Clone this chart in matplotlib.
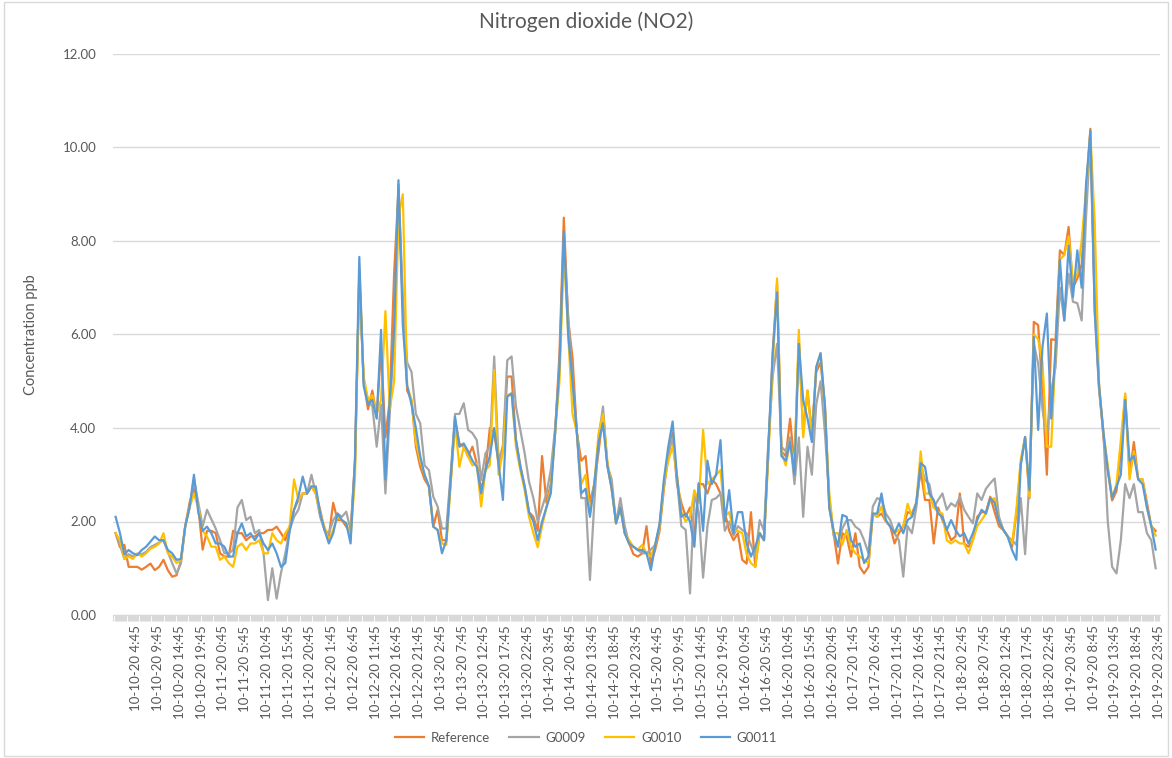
import matplotlib
matplotlib.use("Agg")
import matplotlib.pyplot as plt
from matplotlib.patches import Rectangle
import numpy as np
import pandas as pd

# hourly NO2 readings (ppb), 10-10-20 0:00 .. 10-19-20 23:00, one row per day
reference = [
    1.75, 1.45, 1.5, 1.03, 1.03, 1.03, 0.97, 1.03, 1.1, 0.96, 1.03, 1.18, 0.96, 0.82, 0.85, 1.15, 1.9, 2.4, 2.7, 2.3, 1.4, 1.8, 1.8, 1.75,
    1.32, 1.25, 1.25, 1.8, 1.75, 1.75, 1.6, 1.68, 1.68, 1.75, 1.75, 1.82, 1.82, 1.89, 1.75, 1.6, 1.89, 2.25, 2.46, 2.6, 2.6, 2.75, 2.6, 2.25,
    1.82, 1.68, 2.4, 2.03, 2.03, 1.89, 1.75, 3.3, 7.2, 5.0, 4.4, 4.8, 4.24, 5.7, 3.8, 4.6, 7.3, 9.1, 6.6, 4.8, 4.6, 3.6, 3.17, 2.9,
    2.75, 1.89, 2.25, 1.6, 1.6, 2.9, 4.17, 3.67, 3.6, 3.39, 3.6, 3.24, 2.67, 3.1, 4.0, 3.9, 3.24, 3.6, 5.1, 5.1, 3.74, 3.2, 2.75, 2.2,
    2.1, 1.8, 3.4, 2.4, 2.8, 3.9, 5.6, 8.5, 6.3, 5.5, 3.9, 3.3, 3.4, 2.4, 2.8, 3.5, 4.3, 3.2, 2.7, 2.0, 2.3, 1.75, 1.53, 1.3,
    1.25, 1.32, 1.9, 1.1, 1.4, 1.8, 2.7, 3.4, 3.9, 2.8, 2.4, 2.1, 2.3, 1.7, 2.8, 2.8, 2.6, 2.9, 2.8, 2.6, 2.2, 1.8, 1.6, 1.75,
    1.18, 1.1, 2.2, 1.03, 1.75, 1.6, 3.5, 5.6, 7.1, 3.5, 3.4, 4.2, 3.2, 5.9, 3.9, 4.8, 3.9, 5.2, 5.4, 4.5, 2.3, 1.75, 1.1, 1.75,
    1.68, 1.25, 1.75, 1.03, 0.89, 1.03, 2.17, 2.1, 2.17, 2.0, 1.9, 1.53, 1.75, 1.9, 2.2, 2.17, 2.4, 3.1, 2.46, 2.46, 1.53, 2.3, 2.03, 1.82,
    1.6, 1.68, 2.6, 1.53, 1.46, 1.6, 2.1, 2.2, 2.2, 2.53, 2.2, 1.9, 1.82, 1.68, 1.46, 2.17, 3.24, 3.8, 2.5, 6.27, 6.2, 4.8, 3.0, 5.9,
    5.88, 7.8, 7.7, 8.3, 7.0, 7.2, 7.5, 9.0, 10.4, 6.7, 4.9, 3.8, 3.1, 2.45, 2.65, 3.5, 4.7, 3.0, 3.7, 2.9, 2.9, 2.4, 1.9, 1.8,
]

g0009 = [
    1.75, 1.5, 1.2, 1.3, 1.25, 1.3, 1.3, 1.35, 1.45, 1.5, 1.55, 1.6, 1.35, 1.11, 0.89, 1.1, 1.9, 2.3, 2.9, 2.4, 1.9, 2.25, 2.05, 1.85,
    1.6, 1.32, 1.32, 1.39, 2.3, 2.46, 2.03, 2.1, 1.75, 1.82, 1.32, 0.32, 1.0, 0.35, 0.9, 1.32, 1.82, 2.1, 2.25, 2.6, 2.6, 3.0, 2.6, 2.1,
    1.82, 1.75, 2.03, 2.17, 2.1, 2.21, 1.82, 3.2, 7.3, 5.0, 4.6, 4.46, 3.6, 4.5, 2.6, 4.3, 6.0, 9.2, 6.8, 5.4, 5.2, 4.3, 4.1, 3.2,
    3.1, 2.53, 2.32, 1.85, 1.85, 3.03, 4.3, 4.3, 4.53, 3.96, 3.89, 3.74, 2.89, 3.46, 3.6, 5.53, 3.3, 3.6, 5.45, 5.53, 4.46, 3.96, 3.46, 2.85,
    2.5, 2.0, 2.3, 2.6, 3.1, 4.0, 5.3, 8.0, 6.4, 5.0, 3.9, 2.5, 2.5, 0.75, 2.4, 3.8, 4.46, 3.2, 2.9, 1.96, 2.5, 1.9, 1.53, 1.46,
    1.39, 1.32, 1.32, 1.4, 1.5, 1.9, 2.82, 3.46, 3.8, 2.9, 1.9, 1.82, 0.46, 2.6, 2.2, 0.8, 1.9, 2.46, 2.5, 2.6, 1.8, 2.0, 1.7, 1.9,
    1.82, 1.75, 1.5, 1.25, 2.03, 1.8, 3.7, 5.1, 5.8, 3.6, 3.5, 3.8, 2.8, 3.8, 2.1, 3.6, 3.0, 4.5, 5.0, 3.9, 2.5, 1.7, 1.5, 1.85,
    2.03, 2.03, 1.89, 1.82, 1.6, 1.32, 2.32, 2.5, 2.46, 2.17, 2.03, 1.75, 1.6, 0.82, 1.9, 1.75, 2.3, 3.2, 2.89, 2.8, 2.3, 2.46, 2.6, 2.25,
    2.39, 2.32, 2.53, 2.25, 2.1, 1.96, 2.6, 2.46, 2.7, 2.82, 2.92, 2.1, 1.82, 1.68, 1.6, 1.5, 2.5, 1.3, 2.9, 5.8, 5.38, 4.4, 3.8, 4.8,
    5.3, 7.0, 6.3, 7.3, 6.7, 6.67, 6.3, 8.5, 10.2, 6.5, 4.8, 3.9, 2.0, 1.03, 0.89, 1.6, 2.8, 2.5, 2.8, 2.2, 2.2, 1.75, 1.6, 1.0,
]

g0010 = [
    1.75, 1.6, 1.2, 1.25, 1.2, 1.32, 1.25, 1.32, 1.42, 1.46, 1.53, 1.75, 1.32, 1.25, 1.11, 1.18, 1.9, 2.3, 2.6, 2.3, 1.8, 1.68, 1.46, 1.46,
    1.18, 1.25, 1.11, 1.03, 1.46, 1.53, 1.39, 1.53, 1.53, 1.6, 1.32, 1.32, 1.75, 1.6, 1.53, 1.75, 1.89, 2.9, 2.46, 2.6, 2.6, 2.75, 2.6, 2.17,
    1.89, 1.6, 1.82, 2.1, 2.03, 1.96, 1.68, 2.9, 7.4, 5.1, 4.6, 4.7, 4.3, 4.6, 6.5, 4.4, 5.0, 8.5, 9.0, 4.9, 4.6, 3.7, 3.3, 3.0,
    2.75, 1.89, 1.82, 1.53, 1.5, 2.8, 4.1, 3.17, 3.6, 3.39, 3.2, 3.24, 2.32, 3.1, 3.2, 5.24, 3.0, 3.5, 4.7, 4.74, 3.6, 3.1, 2.67, 2.1,
    1.75, 1.45, 1.9, 2.3, 2.7, 3.9, 5.0, 7.8, 6.0, 4.3, 3.9, 2.8, 3.0, 2.2, 2.8, 3.9, 4.3, 3.3, 2.7, 1.96, 2.3, 1.75, 1.6, 1.46,
    1.4, 1.5, 1.32, 1.25, 1.5, 1.9, 2.8, 3.3, 3.6, 3.0, 2.2, 2.0, 2.1, 2.67, 2.4, 3.96, 2.8, 2.9, 3.0, 3.1, 2.1, 2.2, 1.8, 1.8,
    1.75, 1.3, 1.11, 1.03, 1.75, 1.6, 3.4, 5.3, 7.2, 3.5, 3.2, 3.7, 3.2, 6.1, 3.8, 4.8, 3.8, 5.3, 5.6, 4.4, 2.6, 1.75, 1.75, 1.5,
    1.82, 1.46, 1.32, 1.25, 1.18, 1.11, 2.17, 2.1, 2.32, 2.0, 1.9, 1.75, 1.82, 1.9, 2.38, 2.1, 2.4, 3.5, 2.6, 2.6, 2.3, 2.2, 2.17, 1.6,
    1.53, 1.6, 1.53, 1.53, 1.32, 1.6, 1.9, 2.03, 2.17, 2.46, 2.5, 2.0, 1.82, 1.68, 1.53, 2.25, 3.32, 3.8, 2.53, 6.0, 5.9, 5.4, 3.6, 3.6,
    5.67, 7.6, 7.7, 8.1, 7.1, 7.3, 8.0, 9.1, 10.3, 8.4, 4.9, 3.9, 3.2, 2.5, 2.8, 3.74, 4.74, 2.9, 3.5, 2.9, 2.9, 2.3, 1.9, 1.7,
]

g0011 = [
    2.1, 1.75, 1.3, 1.39, 1.32, 1.28, 1.39, 1.46, 1.57, 1.68, 1.6, 1.6, 1.39, 1.32, 1.18, 1.2, 1.9, 2.3, 3.0, 2.2, 1.8, 1.89, 1.75, 1.53,
    1.53, 1.46, 1.25, 1.25, 1.75, 1.96, 1.68, 1.75, 1.6, 1.75, 1.53, 1.39, 1.53, 1.32, 1.03, 1.11, 1.8, 2.25, 2.53, 2.96, 2.6, 2.75, 2.75, 2.17,
    1.82, 1.53, 1.75, 2.17, 2.03, 1.96, 1.53, 3.3, 7.66, 4.9, 4.5, 4.6, 4.2, 6.1, 2.9, 4.6, 6.1, 9.3, 6.2, 4.9, 4.5, 4.0, 3.4, 3.0,
    2.75, 1.89, 1.82, 1.32, 1.6, 2.9, 4.24, 3.6, 3.67, 3.5, 3.3, 3.17, 2.6, 3.1, 3.4, 4.0, 3.24, 2.46, 4.67, 4.74, 3.74, 3.17, 2.75, 2.2,
    2.0, 1.6, 2.0, 2.3, 2.6, 3.9, 5.3, 8.2, 6.0, 5.0, 3.9, 2.6, 2.7, 2.1, 2.8, 3.7, 4.1, 3.2, 2.7, 1.96, 2.3, 1.75, 1.53, 1.46,
    1.39, 1.39, 1.32, 0.96, 1.5, 1.95, 2.9, 3.6, 4.14, 2.96, 2.1, 2.17, 2.0, 1.46, 2.82, 1.8, 3.3, 2.8, 3.0, 3.74, 2.0, 2.67, 1.75, 2.2,
    2.2, 1.53, 1.25, 1.46, 1.75, 1.6, 3.6, 5.6, 6.9, 3.4, 3.3, 3.7, 3.0, 5.8, 4.6, 4.2, 3.7, 5.3, 5.6, 4.46, 2.3, 1.8, 1.46, 2.14,
    2.1, 1.6, 1.46, 1.53, 1.11, 1.25, 2.17, 2.17, 2.6, 2.03, 1.89, 1.75, 1.96, 1.75, 2.03, 2.1, 2.4, 3.25, 3.17, 2.6, 2.46, 2.17, 2.1, 1.82,
    2.03, 1.82, 1.68, 1.75, 1.53, 1.75, 2.03, 2.25, 2.17, 2.5, 2.4, 2.0, 1.82, 1.68, 1.39, 1.18, 3.2, 3.81, 2.67, 5.95, 3.96, 5.74, 6.45, 4.2,
    5.7, 7.6, 6.3, 7.9, 6.8, 7.8, 7.0, 9.2, 10.35, 6.5, 4.9, 3.9, 3.1, 2.5, 2.75, 3.0, 4.6, 3.3, 3.4, 2.9, 2.8, 2.3, 1.9, 1.4,
]

series_names = ["Reference", "G0009", "G0010", "G0011"]
series_colors = ["#ED7D31", "#A5A5A5", "#FFC000", "#5B9BD5"]

# x axis labels every 5 hours starting at 10-10-20 4:45
start = pd.Timestamp("2020-10-10 00:00")
tick_times = pd.date_range("2020-10-10 04:45", "2020-10-19 23:45", freq="5h")
tick_labels = [f"{t.month}-{t.day}-{t:%y} {t.hour}:{t:%M}" for t in tick_times]
tick_pos = [(t - start).total_seconds() / 3600 for t in tick_times]

plt.rcParams["font.family"] = ["Lato", "DejaVu Sans"]
txt = "#595959"

fig = plt.figure(figsize=(11.72, 7.58), dpi=100)
ax = fig.add_axes([113 / 1172, 1 - 615 / 758, 1047 / 1172, 561 / 758])

hours = np.arange(len(reference))
for vals, name, col in zip([reference, g0009, g0010, g0011], series_names, series_colors):
    ax.plot(hours, vals, color=col, lw=1.6, label=name, solid_joinstyle="round")

ax.set_ylim(0, 12)
ax.set_xlim(-0.6, 240)
ax.set_yticks(np.arange(0, 12.1, 2))
ax.set_yticklabels([f"{v:.2f}" for v in np.arange(0, 12.1, 2)])
ax.yaxis.grid(True, color="#D9D9D9", lw=1)
ax.set_axisbelow(True)
for s in ["top", "right", "left"]:
    ax.spines[s].set_visible(False)
ax.spines["bottom"].set_color("#D9D9D9")

ax.set_xticks(tick_pos)
ax.set_xticklabels(tick_labels, rotation=90, fontsize=9.5, color=txt)
ax.set_xticks(np.arange(-0.5, 240, 0.25), minor=True)
ax.tick_params(axis="x", which="both", length=4, color="#D9D9D9", width=0.8)
ax.tick_params(axis="y", length=0, labelsize=9.5, labelcolor=txt, pad=12)

ax.set_ylabel("Concentration ppb", fontsize=10.5, color=txt, labelpad=18)
fig.text(0.5, 1 - 22 / 758, "Nitrogen dioxide (NO2)", ha="center", va="center",
         fontsize=15, color=txt)

fig.legend(loc="center", bbox_to_anchor=(0.5, 1 - 738 / 758), ncol=4, frameon=False,
           fontsize=9.5, labelcolor=txt, handlelength=2.2, columnspacing=1.5,
           handletextpad=0.5)

fig.patches.append(Rectangle((0.003, 0.003), 0.994, 0.994, transform=fig.transFigure,
                             fill=False, edgecolor="#D9D9D9", lw=1))

fig.savefig("out.png", dpi=100)
